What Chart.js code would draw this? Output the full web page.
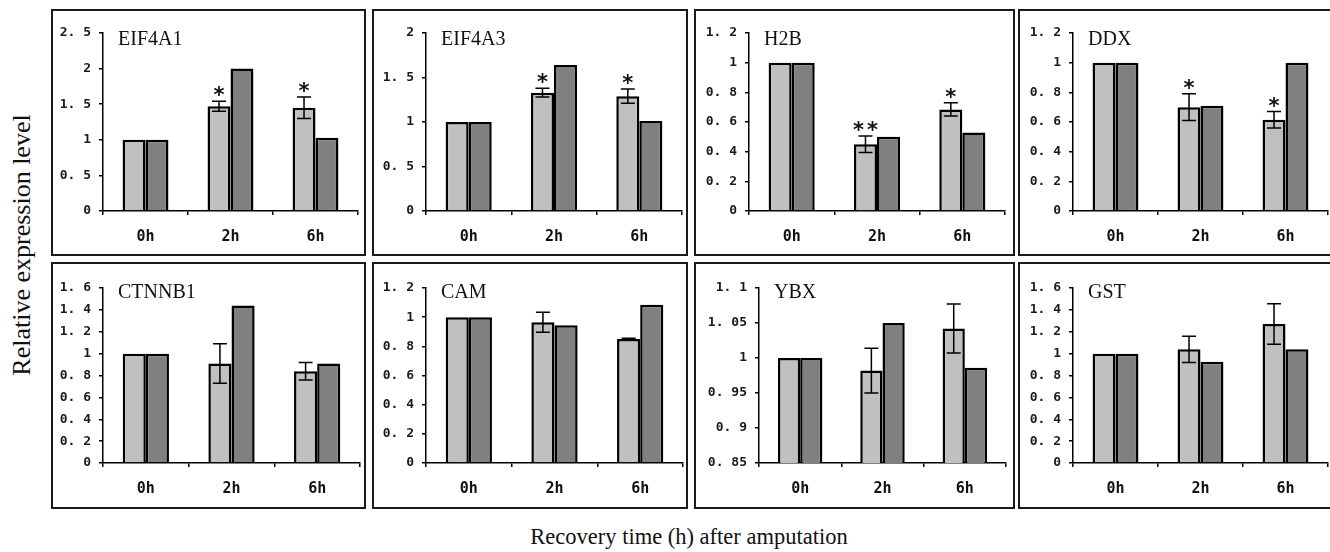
<!DOCTYPE html>
<html>
<head>
<meta charset="utf-8">
<script src="https://cdn.jsdelivr.net/npm/chart.js@4/dist/chart.umd.min.js"></script>
<style>
  html, body { margin: 0; padding: 0; background: #fff; }
  body { width: 1330px; height: 552px; position: relative; overflow: hidden; }
  .panel { position: absolute; box-sizing: border-box; border: 2px solid #1a1a1a; background: #fff; }
  .axis-title { position: absolute; font-family: "Liberation Serif", "Times New Roman", serif; color: #111; white-space: nowrap; }
  #ytitle { left: 22px; top: 245px; font-size: 26px; transform: translate(-50%, -50%) rotate(-90deg); }
  #xtitle { left: 689px; top: 537px; font-size: 22.5px; transform: translate(-50%, -50%); }
</style>
</head>
<body>
<div id="ytitle" class="axis-title">Relative expression level</div>
<div id="xtitle" class="axis-title">Recovery time (h) after amputation</div>

<script>
// ── Data ──
const genes = ['EIF4A1', 'EIF4A3', 'H2B', 'DDX', 'CTNNB1', 'CAM', 'YBX', 'GST'];
const times = ['0h', '2h', '6h'];

// light grey bars (with error bars) and dark grey bars
const lightVals = [
  [1, 1.47, 1.45],
  [1, 1.33, 1.29],
  [1, 0.45, 0.685],
  [1, 0.70, 0.615],
  [1, 0.91, 0.84],
  [1, 0.965, 0.85],
  [1, 0.982, 1.042],
  [1, 1.04, 1.27]
];
const lightErr = [
  [0, 0.07, 0.15],
  [0, 0.05, 0.08],
  [0, 0.055, 0.045],
  [0, 0.09, 0.055],
  [0, 0.18, 0.08],
  [0, 0.068, 0.006],
  [0, 0.032, 0.035],
  [0, 0.12, 0.185]
];
const darkVals = [
  [1, 2.0, 1.03],
  [1, 1.64, 1.01],
  [1, 0.50, 0.53],
  [1, 0.71, 1.0],
  [1, 1.44, 0.91],
  [1, 0.945, 1.085],
  [1, 1.05, 0.986],
  [1, 0.925, 1.04]
];
const stars = [
  ['', '*', '*'],
  ['', '*', '*'],
  ['', '**', '*'],
  ['', '*', '*'],
  ['', '', ''],
  ['', '', ''],
  ['', '', ''],
  ['', '', '']
];

// y axes
const yMin  = [0, 0, 0, 0, 0, 0, 0.85, 0];
const yMax  = [2.5, 2, 1.2, 1.2, 1.6, 1.2, 1.1, 1.6];
const yStep = [0.5, 0.5, 0.2, 0.2, 0.2, 0.2, 0.05, 0.2];

// ── Layout (page pixels) ──
const colLeft  = [51, 372, 694, 1018];
const colWidth = [315, 316, 321, 320];
const rowTop = [9, 262];
const panelH = 247;
const axisLeft = [50, 52, 53, 53, 50, 52, 63, 53];   // y-axis x inside canvas
const padRight = [6, 4, 8, 8, 4, 3, 7, 8];
const padTop   = [22, 24];
const xAxisH   = [43, 44];

const fmtTick = v => String(+v.toFixed(2)).replace('.', '. ');

// ── Overlay: gene name, error bars, significance stars ──
const overlay = {
  id: 'overlay',
  afterDatasetsDraw(chart, args, opts) {
    const ctx = chart.ctx;
    const i = opts.idx;
    const y = chart.scales.y;
    const meta = chart.getDatasetMeta(0);
    ctx.save();

    // gene name
    ctx.font = '20px "Liberation Serif", "Times New Roman", serif';
    ctx.fillStyle = '#111';
    ctx.textAlign = 'left';
    ctx.textBaseline = 'alphabetic';
    ctx.fillText(genes[i], chart.chartArea.left + 15, 34);

    meta.data.forEach((bar, j) => {
      const v = lightVals[i][j], e = lightErr[i][j];
      let topY = bar.y;
      if (e > 0) {
        const hi = y.getPixelForValue(v + e);
        const lo = y.getPixelForValue(v - e);
        ctx.strokeStyle = '#000';
        ctx.lineWidth = 1.5;
        ctx.beginPath();
        ctx.moveTo(bar.x, hi); ctx.lineTo(bar.x, lo);
        ctx.moveTo(bar.x - 7, hi); ctx.lineTo(bar.x + 7, hi);
        ctx.moveTo(bar.x - 7, lo); ctx.lineTo(bar.x + 7, lo);
        ctx.stroke();
        topY = hi;
      }
      const s = stars[i][j];
      if (s) {
        ctx.font = 'bold 21px "DejaVu Sans", sans-serif';
        ctx.fillStyle = '#111';
        ctx.textAlign = 'center';
        const n = s.length;
        for (let k = 0; k < n; k++) {
          const dx = (k - (n - 1) / 2) * 14;
          ctx.fillText('*', bar.x + dx, topY + 1);
        }
      }
    });
    ctx.restore();
  }
};

// ── Build panels ──
genes.forEach((g, i) => {
  const row = Math.floor(i / 4), col = i % 4;
  const box = document.createElement('div');
  box.className = 'panel';
  box.style.left = colLeft[col] + 'px';
  box.style.top = rowTop[row] + 'px';
  box.style.width = colWidth[col] + 'px';
  box.style.height = panelH + 'px';
  const cv = document.createElement('canvas');
  box.appendChild(cv);
  document.body.appendChild(box);

  new Chart(cv, {
    type: 'bar',
    data: {
      labels: times,
      datasets: [
        { data: lightVals[i], backgroundColor: '#c0c0c0', borderColor: '#000', borderWidth: 2.5 },
        { data: darkVals[i], backgroundColor: '#808080', borderColor: '#000', borderWidth: 2.5 }
      ]
    },
    options: {
      responsive: true,
      maintainAspectRatio: false,
      animation: false,
      layout: { padding: { top: padTop[row], right: padRight[i], left: 0, bottom: 0 } },
      datasets: { bar: { categoryPercentage: 0.54, barPercentage: 1 } },
      plugins: {
        legend: { display: false },
        tooltip: { enabled: false },
        overlay: { idx: i }
      },
      scales: {
        x: {
          grid: { display: true, drawOnChartArea: false, tickLength: 4, color: '#000', lineWidth: 1.5 },
          border: { color: '#000', width: 1.5 },
          ticks: { color: '#111', font: { family: '"DejaVu Sans Mono", monospace', size: 15, weight: 'bold' }, padding: 13 },
          afterFit: s => { s.height = xAxisH[row]; }
        },
        y: {
          min: yMin[i],
          max: yMax[i],
          grid: { display: true, drawOnChartArea: false, tickLength: 4, color: '#000', lineWidth: 1.5 },
          border: { color: '#000', width: 1.5 },
          ticks: {
            stepSize: yStep[i],
            color: '#1a1a1a',
            font: { family: '"DejaVu Sans Mono", monospace', size: 13, weight: 'bold' },
            padding: 8,
            callback: v => fmtTick(v)
          },
          afterFit: s => { s.width = axisLeft[i]; }
        }
      }
    },
    plugins: [overlay]
  });
});
</script>
</body>
</html>
